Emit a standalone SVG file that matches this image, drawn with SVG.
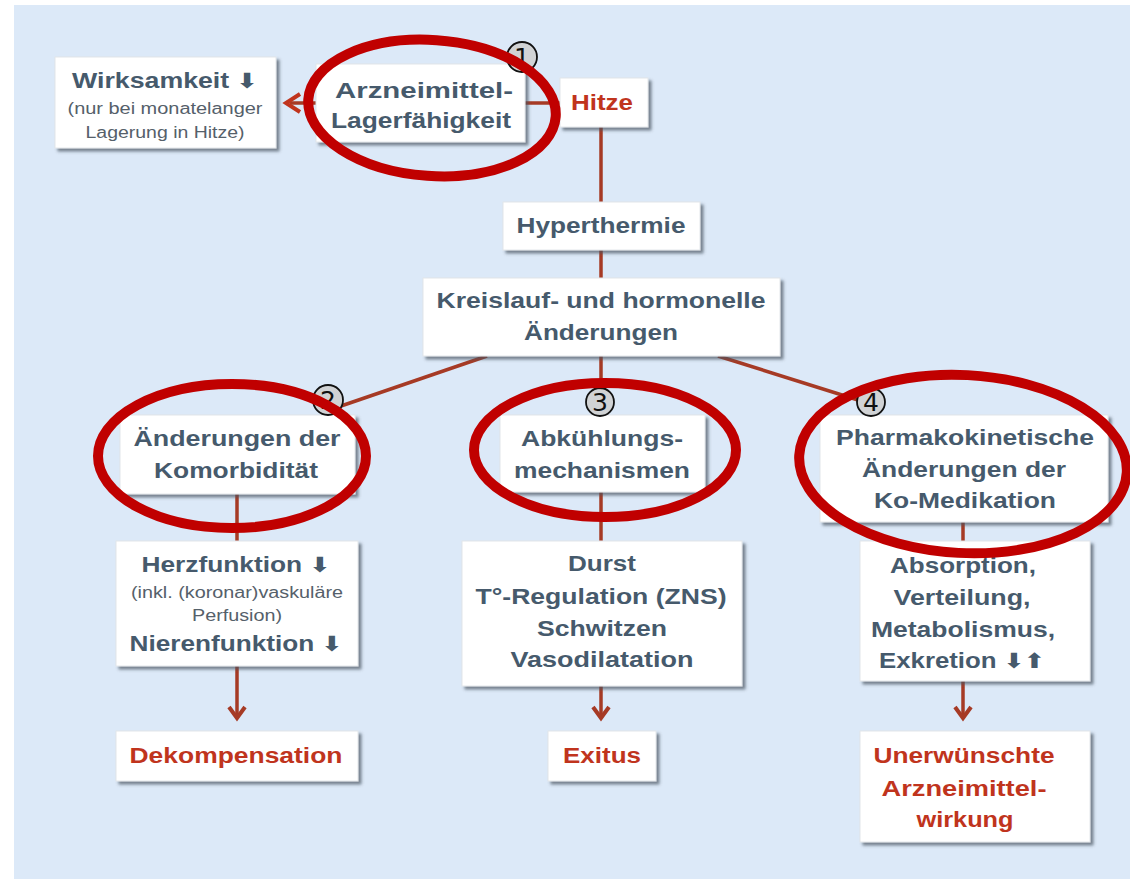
<svg xmlns="http://www.w3.org/2000/svg" width="1130" height="879" viewBox="0 0 1130 879">
<style>
.box{fill:#ffffff;stroke:#e2e6ea;stroke-width:1;filter:url(#sh)}
.t{font-family:"Liberation Sans",Arial,sans-serif;font-weight:bold;font-size:22px;fill:#465a6c;text-anchor:middle}
.s{font-family:"Liberation Sans",Arial,sans-serif;font-size:16px;fill:#55606a;text-anchor:middle}
.r{fill:#c0341d}
.ar{font-family:"DejaVu Sans",sans-serif;font-size:21px;font-weight:bold}
.c{stroke:#a63a25;stroke-width:3.5;fill:none}
.ell{fill:none;stroke:#c00000;stroke-width:10}
.num{fill:#cfcfcf;fill-opacity:0.85;stroke:#111;stroke-width:1.8}
.nt{font-family:"DejaVu Sans",sans-serif;font-size:25px;fill:#111;text-anchor:middle}
</style>
<defs>
<filter id="sh" x="-10%" y="-10%" width="125%" height="130%">
<feDropShadow dx="3" dy="3" stdDeviation="1.5" flood-color="#4a5560" flood-opacity="0.7"/>
</filter>
<marker id="ah" markerWidth="20" markerHeight="20" viewBox="0 0 20 20" refX="16" refY="10" orient="auto" markerUnits="userSpaceOnUse">
<path d="M5,2 L16,10 L5,18" fill="none" stroke="#a63a25" stroke-width="4"/>
</marker>
</defs>
<rect x="0" y="0" width="1130" height="879" fill="#ffffff"/>
<rect x="14" y="5" width="1116" height="874" fill="#dce9f8"/>

<g id="connectors">
<line class="c" x1="316" y1="103" x2="290" y2="103"/>
<path d="M300,94 L286,103 L300,112" fill="none" stroke="#c0341d" stroke-width="4"/>
<line class="c" x1="525" y1="103" x2="560" y2="103"/>
<line class="c" x1="601" y1="127" x2="601" y2="202"/>
<line class="c" x1="601" y1="250" x2="601" y2="278"/>
<line class="c" x1="487" y1="356" x2="341" y2="406"/>
<line class="c" x1="601" y1="356" x2="601" y2="390"/>
<line class="c" x1="718" y1="356" x2="858" y2="400"/>
<line class="c" x1="237" y1="494" x2="237" y2="541"/>
<line class="c" x1="601" y1="492" x2="601" y2="541"/>
<line class="c" x1="963" y1="522" x2="963" y2="541"/>
<line class="c" x1="237" y1="666" x2="237" y2="718" marker-end="url(#ah)"/>
<line class="c" x1="601" y1="686" x2="601" y2="718" marker-end="url(#ah)"/>
<line class="c" x1="963" y1="681" x2="963" y2="718" marker-end="url(#ah)"/>
</g>

<g id="n-wirksamkeit">
<rect class="box" x="55" y="57" width="221" height="91"/>
<text class="t" x="165" y="88" font-size="21" textLength="186" lengthAdjust="spacingAndGlyphs">Wirksamkeit <tspan class="ar">⬇</tspan></text>
<text class="s" x="165" y="114" textLength="195" lengthAdjust="spacingAndGlyphs">(nur bei monatelanger</text>
<text class="s" x="165" y="138" textLength="159" lengthAdjust="spacingAndGlyphs">Lagerung in Hitze)</text>
</g>

<g id="n-arzneimittel">
<rect class="box" x="316" y="64" width="209" height="78"/>
<text class="t" x="424" y="98" textLength="178" lengthAdjust="spacingAndGlyphs">Arzneimittel-</text>
<text class="t" x="421" y="128" textLength="180" lengthAdjust="spacingAndGlyphs">Lagerfähigkeit</text>
</g>

<g id="n-hitze">
<rect class="box" x="560" y="78" width="88" height="49"/>
<text class="t r" x="602" y="110" textLength="62" lengthAdjust="spacingAndGlyphs">Hitze</text>
</g>

<g id="n-hyperthermie">
<rect class="box" x="503" y="202" width="197" height="48"/>
<text class="t" x="601" y="233" textLength="169" lengthAdjust="spacingAndGlyphs">Hyperthermie</text>
</g>

<g id="n-kreislauf">
<rect class="box" x="423" y="278" width="357" height="78"/>
<text class="t" x="601" y="308" textLength="329" lengthAdjust="spacingAndGlyphs">Kreislauf- und hormonelle</text>
<text class="t" x="601" y="340" textLength="154" lengthAdjust="spacingAndGlyphs">Änderungen</text>
</g>

<g id="n-komorbiditaet">
<rect class="box" x="120" y="415" width="235" height="79"/>
<text class="t" x="237" y="446" textLength="207" lengthAdjust="spacingAndGlyphs">Änderungen der</text>
<text class="t" x="236" y="478" textLength="164" lengthAdjust="spacingAndGlyphs">Komorbidität</text>
</g>

<g id="n-abkuehlung">
<rect class="box" x="500" y="415" width="205" height="77"/>
<text class="t" x="602" y="446" textLength="162" lengthAdjust="spacingAndGlyphs">Abkühlungs-</text>
<text class="t" x="602" y="478" textLength="176" lengthAdjust="spacingAndGlyphs">mechanismen</text>
</g>

<g id="n-pharmakokinetik">
<rect class="box" x="820" y="415" width="288" height="107"/>
<text class="t" x="965" y="445" textLength="258" lengthAdjust="spacingAndGlyphs">Pharmakokinetische</text>
<text class="t" x="964" y="477" textLength="204" lengthAdjust="spacingAndGlyphs">Änderungen der</text>
<text class="t" x="965" y="508" textLength="182" lengthAdjust="spacingAndGlyphs">Ko-Medikation</text>
</g>

<g id="n-herzfunktion">
<rect class="box" x="116" y="541" width="242" height="125"/>
<text class="t" x="236" y="572" textLength="189" lengthAdjust="spacingAndGlyphs">Herzfunktion <tspan class="ar">⬇</tspan></text>
<text class="s" x="237" y="598" textLength="212" lengthAdjust="spacingAndGlyphs">(inkl. (koronar)vaskuläre</text>
<text class="s" x="237" y="621" textLength="90" lengthAdjust="spacingAndGlyphs">Perfusion)</text>
<text class="t" x="236" y="651" textLength="213" lengthAdjust="spacingAndGlyphs">Nierenfunktion <tspan class="ar">⬇</tspan></text>
</g>

<g id="n-durst">
<rect class="box" x="462" y="541" width="280" height="145"/>
<text class="t" x="602" y="571" textLength="68" lengthAdjust="spacingAndGlyphs">Durst</text>
<text class="t" x="601" y="604" textLength="251" lengthAdjust="spacingAndGlyphs">T°-Regulation (ZNS)</text>
<text class="t" x="602" y="636" textLength="130" lengthAdjust="spacingAndGlyphs">Schwitzen</text>
<text class="t" x="602" y="667" textLength="183" lengthAdjust="spacingAndGlyphs">Vasodilatation</text>
</g>

<g id="n-absorption">
<rect class="box" x="860" y="541" width="230" height="140"/>
<text class="t" x="963" y="573" textLength="146" lengthAdjust="spacingAndGlyphs">Absorption,</text>
<text class="t" x="962" y="605" textLength="137" lengthAdjust="spacingAndGlyphs">Verteilung,</text>
<text class="t" x="963" y="637" textLength="184" lengthAdjust="spacingAndGlyphs">Metabolismus,</text>
<text class="t" x="962" y="668" textLength="166" lengthAdjust="spacingAndGlyphs">Exkretion <tspan class="ar">⬇⬆</tspan></text>
</g>

<g id="n-dekompensation">
<rect class="box" x="116" y="731" width="242" height="50"/>
<text class="t r" x="236" y="763" textLength="213" lengthAdjust="spacingAndGlyphs">Dekompensation</text>
</g>

<g id="n-exitus">
<rect class="box" x="548" y="731" width="108" height="50"/>
<text class="t r" x="602" y="763" textLength="78" lengthAdjust="spacingAndGlyphs">Exitus</text>
</g>

<g id="n-unerwuenscht">
<rect class="box" x="860" y="731" width="230" height="111"/>
<text class="t r" x="964" y="763" textLength="181" lengthAdjust="spacingAndGlyphs">Unerwünschte</text>
<text class="t r" x="964" y="796" textLength="165" lengthAdjust="spacingAndGlyphs">Arzneimittel-</text>
<text class="t r" x="965" y="827" textLength="97" lengthAdjust="spacingAndGlyphs">wirkung</text>
</g>

<g id="annotations">
<circle class="num" cx="522" cy="57" r="15"/>
<text class="nt" x="522" y="66">1</text>
<circle class="num" cx="328" cy="400" r="15"/>
<text class="nt" x="328" y="409">2</text>
<circle class="num" cx="600" cy="402" r="14"/>
<text class="nt" x="600" y="411">3</text>
<circle class="num" cx="871" cy="402" r="14"/>
<text class="nt" x="871" y="411">4</text>
<ellipse class="ell" cx="432" cy="108" rx="124" ry="68" transform="rotate(4 432 108)"/>
<ellipse class="ell" cx="232" cy="456" rx="134" ry="72"/>
<ellipse class="ell" cx="605" cy="450" rx="131" ry="67"/>
<ellipse class="ell" cx="963" cy="464" rx="164" ry="89" transform="rotate(3 963 464)"/>
</g>
</svg>
